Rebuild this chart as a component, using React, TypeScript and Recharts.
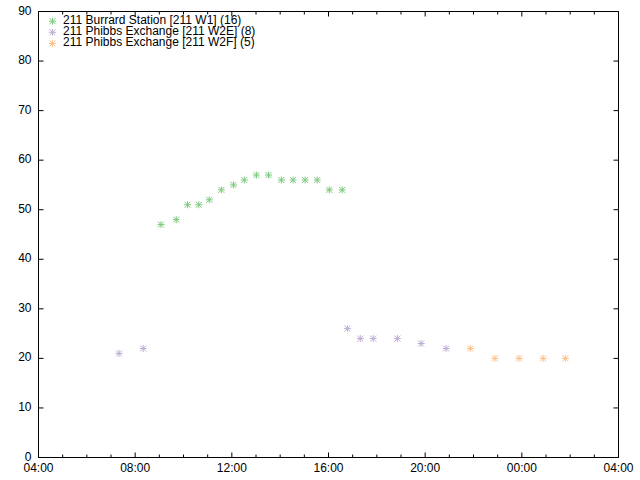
import React from 'react';
import { ScatterChart, Scatter, XAxis, YAxis, Legend } from 'recharts';

// ---- data ----
const burrardTimes = ['09:04', '09:42', '10:10', '10:38', '11:04', '11:34', '12:04', '12:31', '13:01', '13:31', '14:03', '14:32', '15:02', '15:32', '16:02', '16:34'];
const burrardValues = [47, 48, 51, 51, 52, 54, 55, 56, 57, 57, 56, 56, 56, 56, 54, 54];

const phibbsETimes = ['07:20', '08:20', '16:47', '17:19', '17:51', '18:51', '19:50', '20:52'];
const phibbsEValues = [21, 22, 26, 24, 24, 24, 23, 22];

const phibbsFTimes = ['21:52', '22:53', '23:53', '00:53', '01:48'];
const phibbsFValues = [22, 20, 20, 20, 20];

const seriesNames = [
  '211 Burrard Station [211 W1] (16)',
  '211 Phibbs Exchange [211 W2E] (8)',
  '211 Phibbs Exchange [211 W2F] (5)',
];
const seriesColors = ['#7fc97f', '#beaed4', '#fdc086'];

const xTicks = [4, 5, 6, 7, 8, 9, 10, 11, 12, 13, 14, 15, 16, 17, 18, 19, 20, 21, 22, 23, 24, 25, 26, 27, 28];
const yTicks = [0, 10, 20, 30, 40, 50, 60, 70, 80, 90];

// ---- helpers ----
const toHours = (t: string) => {
  const [h, m] = t.split(':').map(Number);
  const v = h + m / 60;
  return v < 4 ? v + 24 : v;
};
const build = (times: string[], values: number[]) =>
  times.map((t, i) => ({ x: toHours(t), y: values[i] }));

const burrardData = build(burrardTimes, burrardValues);
const phibbsEData = build(phibbsETimes, phibbsEValues);
const phibbsFData = build(phibbsFTimes, phibbsFValues);

const fmtHour = (v: number) => {
  const h = ((v % 24) + 24) % 24;
  return `${String(h).padStart(2, '0')}:00`;
};

const FONT = 'Liberation Sans, Arial, sans-serif';

const Asterisk = ({ cx, cy, color }: { cx: number; cy: number; color: string }) => {
  const r = 3.5;
  const d = 3;
  return (
    <g stroke={color} strokeWidth={1} fill="none">
      <line x1={cx - r} y1={cy} x2={cx + r} y2={cy} />
      <line x1={cx} y1={cy - r} x2={cx} y2={cy + r} />
      <line x1={cx - d} y1={cy - d} x2={cx + d} y2={cy + d} />
      <line x1={cx - d} y1={cy + d} x2={cx + d} y2={cy - d} />
    </g>
  );
};

const makeShape = (color: string) => (props: any) => (
  <Asterisk cx={props.cx} cy={props.cy} color={color} />
);

const BottomTick = (props: any) => {
  const { x, y, payload } = props;
  const major = payload.value % 4 === 0;
  return (
    <g>
      <line x1={x} y1={y} x2={x} y2={y - (major ? 5 : 3)} stroke="#000" />
      {major && (
        <text x={x} y={y + 14} textAnchor="middle" fontFamily={FONT} fontSize={12} fill="#000">
          {fmtHour(payload.value)}
        </text>
      )}
    </g>
  );
};

const TopTick = (props: any) => {
  const { x, y, payload } = props;
  const major = payload.value % 4 === 0;
  return <line x1={x} y1={y} x2={x} y2={y + (major ? 5 : 3)} stroke="#000" />;
};

const LeftTick = (props: any) => {
  const { x, y, payload } = props;
  return (
    <g>
      <line x1={x} y1={y} x2={x + 5} y2={y} stroke="#000" />
      <text x={x - 7} y={y + 3} textAnchor="end" fontFamily={FONT} fontSize={12} fill="#000">
        {payload.value}
      </text>
    </g>
  );
};

const RightTick = (props: any) => {
  const { x, y } = props;
  return <line x1={x} y1={y} x2={x - 5} y2={y} stroke="#000" />;
};

const LegendContent = () => (
  <svg width={300} height={50} style={{ display: 'block' }}>
    {seriesNames.map((name, i) => (
      <g key={name}>
        <Asterisk cx={52.5} cy={21.2 + i * 11.1} color={seriesColors[i]} />
        <text x={63} y={23.5 + i * 11.3} fontFamily={FONT} fontSize={12} fill="#000">
          {name}
        </text>
      </g>
    ))}
  </svg>
);

export default function App() {
  return (
    <div style={{ position: 'absolute', left: 0, top: 0, width: 640, height: 480, background: '#fff' }}>
      <ScatterChart width={640} height={480} margin={{ top: 10.5, right: 20.5, bottom: 0, left: 0.5 }}>
        <XAxis
          xAxisId="bottom"
          type="number"
          dataKey="x"
          domain={[4, 28]}
          ticks={xTicks}
          interval={0}
          height={22.5}
          orientation="bottom"
          tickSize={0}
          tickMargin={0}
          axisLine={{ stroke: '#000' }}
          tickLine={false}
          tick={<BottomTick />}
          allowDataOverflow
        />
        <XAxis
          xAxisId="top"
          type="number"
          dataKey="x"
          domain={[4, 28]}
          ticks={xTicks}
          interval={0}
          height={1}
          orientation="top"
          tickSize={0}
          tickMargin={0}
          axisLine={{ stroke: '#000' }}
          tickLine={false}
          tick={<TopTick />}
          allowDataOverflow
        />
        <YAxis
          yAxisId="left"
          type="number"
          dataKey="y"
          domain={[0, 90]}
          ticks={yTicks}
          interval={0}
          width={38}
          orientation="left"
          tickSize={0}
          tickMargin={0}
          axisLine={{ stroke: '#000' }}
          tickLine={false}
          tick={<LeftTick />}
          allowDataOverflow
        />
        <YAxis
          yAxisId="right"
          type="number"
          dataKey="y"
          domain={[0, 90]}
          ticks={yTicks}
          interval={0}
          width={1}
          orientation="right"
          tickSize={0}
          tickMargin={0}
          axisLine={{ stroke: '#000' }}
          tickLine={false}
          tick={<RightTick />}
          allowDataOverflow
        />
        <Legend
          layout="horizontal"
          verticalAlign="middle"
          align="center"
          content={<LegendContent />}
          wrapperStyle={{ position: 'absolute', left: 0, top: 0, width: 300, height: 50 }}
        />
        <Scatter
          name={seriesNames[0]}
          data={burrardData}
          xAxisId="bottom"
          yAxisId="left"
          fill={seriesColors[0]}
          shape={makeShape(seriesColors[0])}
          isAnimationActive={false}
        />
        <Scatter
          name={seriesNames[1]}
          data={phibbsEData}
          xAxisId="bottom"
          yAxisId="left"
          fill={seriesColors[1]}
          shape={makeShape(seriesColors[1])}
          isAnimationActive={false}
        />
        <Scatter
          name={seriesNames[2]}
          data={phibbsFData}
          xAxisId="bottom"
          yAxisId="left"
          fill={seriesColors[2]}
          shape={makeShape(seriesColors[2])}
          isAnimationActive={false}
        />
      </ScatterChart>
    </div>
  );
}
